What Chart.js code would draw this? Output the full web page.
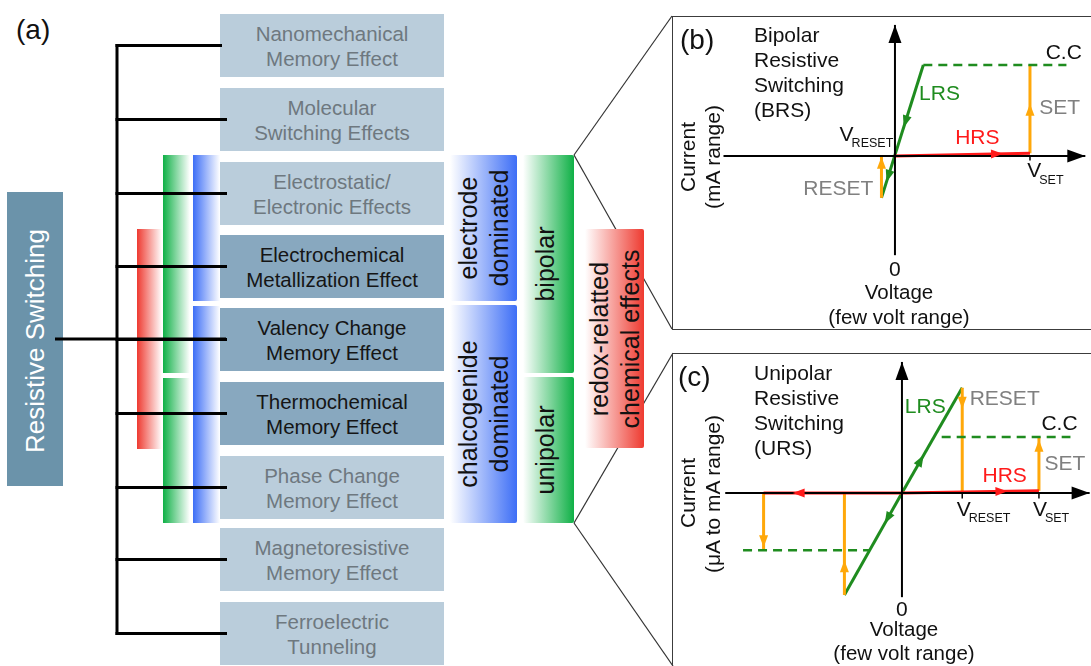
<!DOCTYPE html>
<html>
<head>
<meta charset="utf-8">
<title>Resistive switching</title>
<script src="https://cdn.jsdelivr.net/npm/chart.js@4.4.1/dist/chart.umd.min.js"></script>
<style>
  body { margin: 0; background: #fff; font-family: "Liberation Sans", Arial, sans-serif; }
  #page { position: relative; width: 1091px; height: 666px; overflow: hidden; }
  .abs { position: absolute; }
  .c { transform: translate(-50%, -50%); white-space: nowrap; }
  .rot { transform: translate(-50%, -50%) rotate(-90deg); white-space: nowrap; text-align: center; }
  .box { position: absolute; left: 220px; width: 224px; height: 63px; display: flex; align-items: center; justify-content: center; text-align: center; font-size: 20.5px; line-height: 25px; }
  .light { background: #bacddb; color: #6e787f; }
  .dark { background: #88a8bf; color: #151515; }
  .bar { position: absolute; }
  .tag { position: absolute; border-radius: 2px; }
  .tag span { position: absolute; left: 50%; top: 50%; font-size: 25px; line-height: 31px; color: #111; }
  .panel { position: absolute; left: 672px; width: 440px; border: 1.5px solid #3c3c3c; border-right: none; }
  .ptxt { font-size: 21px; line-height: 25px; color: #111; }
  canvas { position: absolute; }
</style>
</head>
<body>
<div id="page">
  <!-- connector lines to panels (b) and (c) -->
  <svg class="abs" style="left:0;top:0" width="1091" height="666">
    <g stroke="#333" stroke-width="1.2">
      <line x1="574" y1="155" x2="672" y2="16"/>
      <line x1="574" y1="155" x2="672" y2="329"/>
      <line x1="574" y1="523" x2="673" y2="353"/>
      <line x1="574" y1="523" x2="673" y2="666"/>
    </g>
  </svg>

  <div class="abs" style="left:16px;top:16px;font-size:28px;line-height:28px;color:#111">(a)</div>

  <div class="abs" style="left:7px;top:192px;width:56px;height:294px;background:#6b93aa"></div>
  <div class="abs rot" style="left:35px;top:341px;font-size:26px;color:#fff">Resistive Switching</div>

  <!-- gradient bars of the tree -->
  <div class="bar" style="left:137px;top:229px;width:25px;height:220px;background:linear-gradient(to right,#ee3a30,#fff)"></div>
  <div class="bar" style="left:163px;top:155px;width:27px;height:218px;background:linear-gradient(to right,#0fb046,#fff)"></div>
  <div class="bar" style="left:163px;top:378px;width:27px;height:145px;background:linear-gradient(to right,#0fb046,#fff)"></div>
  <div class="bar" style="left:193px;top:155px;width:27px;height:146px;background:linear-gradient(to right,#3d6ef6,#fff)"></div>
  <div class="bar" style="left:193px;top:306px;width:27px;height:217px;background:linear-gradient(to right,#3d6ef6,#fff)"></div>

  <div id="boxes"></div>

  <svg class="abs" style="left:0;top:0" width="1091" height="666">
    <g id="tree" stroke="#000" stroke-width="3"></g>
  </svg>

  <!-- category tags -->
  <div class="tag" style="left:450px;top:155px;width:67px;height:146px;background:linear-gradient(to right,#fff,#3d6ef6)"><span class="rot">electrode<br>dominated</span></div>
  <div class="tag" style="left:450px;top:305px;width:67px;height:218px;background:linear-gradient(to right,#fff,#3d6ef6)"><span class="rot">chalcogenide<br>dominated</span></div>
  <div class="tag" style="left:523px;top:155px;width:51px;height:218px;background:linear-gradient(to right,#fff,#0fb046)"><span class="rot" style="margin-left:-4px">bipolar</span></div>
  <div class="tag" style="left:523px;top:377px;width:51px;height:146px;background:linear-gradient(to right,#fff,#0fb046)"><span class="rot" style="margin-left:-4px">unipolar</span></div>
  <div class="tag" style="left:585px;top:229px;width:59px;height:219px;background:linear-gradient(to right,#fff,#ee3a30)"><span class="rot">redox-relatted<br>chemical effects</span></div>

  <!-- panel (b) -->
  <div class="panel" style="top:16px;height:312px"></div>
  <canvas id="chartB" width="418" height="312" style="left:673px;top:17px"></canvas>
  <div class="abs" style="left:680px;top:26px;font-size:28px;line-height:28px;color:#111">(b)</div>
  <div class="abs ptxt" style="left:754px;top:22px">Bipolar<br>Resistive<br>Switching<br>(BRS)</div>
  <div class="abs rot ptxt" style="left:687px;top:157px">Current</div>
  <div class="abs rot ptxt" style="left:712px;top:157px">(mA range)</div>
  <div class="abs c" style="left:899px;top:292px;font-size:20.5px;color:#111">Voltage</div>
  <div class="abs c" style="left:899px;top:317px;font-size:20.5px;color:#111">(few volt range)</div>

  <!-- panel (c) -->
  <div class="panel" style="top:353px;height:320px"></div>
  <canvas id="chartC" width="417" height="312" style="left:674px;top:354px"></canvas>
  <div class="abs" style="left:678px;top:363px;font-size:28px;line-height:28px;color:#111">(c)</div>
  <div class="abs ptxt" style="left:754px;top:360px">Unipolar<br>Resistive<br>Switching<br>(URS)</div>
  <div class="abs rot ptxt" style="left:687px;top:493px">Current</div>
  <div class="abs rot ptxt" style="left:712px;top:494px">(μA to mA range)</div>
  <div class="abs c" style="left:904px;top:629px;font-size:20.5px;color:#111">Voltage</div>
  <div class="abs c" style="left:904px;top:653px;font-size:20.5px;color:#111">(few volt range)</div>
</div>

<script>
// Tree of switching mechanisms (a)
const effects = [
  'Nanomechanical<br>Memory Effect',
  'Molecular<br>Switching Effects',
  'Electrostatic/<br>Electronic Effects',
  'Electrochemical<br>Metallization Effect',
  'Valency Change<br>Memory Effect',
  'Thermochemical<br>Memory Effect',
  'Phase Change<br>Memory Effect',
  'Magnetoresistive<br>Memory Effect',
  'Ferroelectric<br>Tunneling'
];
const redoxEffects = [3, 4, 5]; // drawn in the darker shade
const boxTops = [14, 88, 162, 235, 308, 382, 456, 528, 602];

// Panel (b): voltage in units of V_SET, current in units of C.C
const bAxisX = [[-1.27, 0], [1.41, 0]];
const bAxisY = [[0, -1.09], [0, 1.44]];
const bLRS = [[0.21, 1], [-0.1, -0.46]];
const bHRS = [[0, 0], [1, 0.03]];
const bSET = [[1, 0.03], [1, 1]];
const bRESET = [[-0.1, -0.46], [-0.1, 0]];
const bCC = [[0.21, 1], [1.27, 1]];
const bTick = [[1, 0], [1, -0.05]];

// Panel (c)
const cAxisX = [[-1.29, 0], [1.37, 0]];
const cAxisY = [[0, -1.86], [0, 2.34]];
const cLRSup = [[0, 0], [0.44, 1.88]];
const cLRSdown = [[0, 0], [-0.42, -1.82]];
const cHRSpos = [[0, 0], [1, 0.04]];
const cHRSneg = [[0, 0], [-1.01, 0]];
const cSETpos = [[1, 0.04], [1, 1]];
const cSETneg = [[-1.01, 0], [-1.01, -1.02]];
const cRESETpos = [[0.44, 1.88], [0.44, 0]];
const cRESETneg = [[-0.42, -1.82], [-0.42, 0]];
const cCCpos = [[0.29, 1], [1.23, 1]];
const cCCneg = [[-1.16, -1.02], [-0.24, -1.02]];
const cTicks = [[[0.44, 0], [0.44, -0.1]], [[1, 0], [1, -0.1]]];

const GREEN = '#1f8c1f', RED = '#ff1a1a', ORANGE = '#ffa80a', GREY = '#808080', INK = '#111';

const bNotes = [
  { text: 'C.C', x: 1.25, y: 1.13, color: INK },
  { text: 'LRS', x: 0.33, y: 0.68, color: GREEN },
  { text: 'HRS', x: 0.61, y: 0.2, color: RED },
  { text: 'SET', x: 1.22, y: 0.53, color: GREY },
  { text: 'RESET', x: -0.42, y: -0.37, color: GREY },
  { text: 'V', sub: 'RESET', x: -0.41, y: 0.23, color: INK },
  { text: 'V', sub: 'SET', x: 0.98, y: -0.17, color: INK },
  { text: '0', x: 0, y: -1.25, color: INK }
];
const cNotes = [
  { text: 'LRS', x: 0.17, y: 1.54, color: GREEN },
  { text: 'RESET', x: 0.75, y: 1.67, color: GREY },
  { text: 'C.C', x: 1.15, y: 1.23, color: INK },
  { text: 'SET', x: 1.19, y: 0.51, color: GREY },
  { text: 'HRS', x: 0.75, y: 0.3, color: RED },
  { text: 'V', sub: 'RESET', x: 0.4, y: -0.3, color: INK },
  { text: 'V', sub: 'SET', x: 0.956, y: -0.3, color: INK },
  { text: '0', x: 0, y: -2.1, color: INK }
];

// build the left boxes and tree branches
const boxHost = document.getElementById('boxes');
const tree = document.getElementById('tree');
const NS = 'http://www.w3.org/2000/svg';
function svgLine(x1, y1, x2, y2) {
  const l = document.createElementNS(NS, 'line');
  l.setAttribute('x1', x1); l.setAttribute('y1', y1);
  l.setAttribute('x2', x2); l.setAttribute('y2', y2);
  tree.appendChild(l);
}
effects.forEach((label, i) => {
  const box = document.createElement('div');
  box.className = 'box ' + (redoxEffects.includes(i) ? 'dark' : 'light');
  box.style.top = boxTops[i] + 'px';
  box.innerHTML = label;
  boxHost.appendChild(box);
  const y = boxTops[i] + 31.5;
  svgLine(115.5, y, i === 0 ? 222 : 227, y);
});
svgLine(117, boxTops[0] + 30, 117, boxTops[8] + 33);
svgLine(55, 339, 226, 339);

// Chart helpers
const FONT = '"Liberation Sans", Arial, sans-serif';

function seg(points, color, width, extra) {
  return Object.assign({
    data: points.map(([x, y]) => ({ x, y })),
    showLine: true,
    borderColor: color,
    backgroundColor: color,
    borderWidth: width,
    pointRadius: 0,
    fill: false,
    tension: 0
  }, extra || {});
}

const arrowPlugin = {
  id: 'arrows',
  afterDatasetsDraw(chart) {
    const ctx = chart.ctx;
    const xs = chart.scales.x, ys = chart.scales.y;
    chart.data.datasets.forEach(ds => {
      if (!ds.arrows) return;
      const p0 = ds.data[0], p1 = ds.data[ds.data.length - 1];
      const x0 = xs.getPixelForValue(p0.x), y0 = ys.getPixelForValue(p0.y);
      const x1 = xs.getPixelForValue(p1.x), y1 = ys.getPixelForValue(p1.y);
      const len = Math.hypot(x1 - x0, y1 - y0);
      const ux = (x1 - x0) / len, uy = (y1 - y0) / len;
      const L = ds.arrowLength || 12, W = ds.arrowWidth || 9;
      ds.arrows.forEach(f => {
        const tx = x0 + (x1 - x0) * f, ty = y0 + (y1 - y0) * f;
        ctx.save();
        ctx.fillStyle = ds.borderColor;
        ctx.beginPath();
        ctx.moveTo(tx, ty);
        ctx.lineTo(tx - ux * L - uy * W / 2, ty - uy * L + ux * W / 2);
        ctx.lineTo(tx - ux * L + uy * W / 2, ty - uy * L - ux * W / 2);
        ctx.closePath();
        ctx.fill();
        ctx.restore();
      });
    });
  }
};

const notePlugin = {
  id: 'notes',
  afterDatasetsDraw(chart, args, opts) {
    const ctx = chart.ctx;
    const xs = chart.scales.x, ys = chart.scales.y;
    (opts.items || []).forEach(n => {
      const px = xs.getPixelForValue(n.x), py = ys.getPixelForValue(n.y);
      ctx.save();
      ctx.fillStyle = n.color;
      ctx.textBaseline = 'middle';
      ctx.font = '21px ' + FONT;
      if (n.sub) {
        ctx.textAlign = 'left';
        ctx.fillText(n.text, px, py);
        const w = ctx.measureText(n.text).width;
        ctx.font = '12.5px ' + FONT;
        ctx.fillText(n.sub, px + w - 2, py + 9);
      } else {
        ctx.textAlign = 'center';
        ctx.fillText(n.text, px, py);
      }
      ctx.restore();
    });
  }
};

function makeChart(id, xRange, yRange, datasets, notes) {
  return new Chart(document.getElementById(id), {
    type: 'scatter',
    data: { datasets },
    options: {
      responsive: false,
      animation: false,
      events: [],
      layout: { padding: 0 },
      plugins: {
        legend: { display: false },
        tooltip: { enabled: false },
        notes: { items: notes }
      },
      scales: {
        x: { type: 'linear', display: false, min: xRange[0], max: xRange[1] },
        y: { type: 'linear', display: false, min: yRange[0], max: yRange[1] }
      }
    },
    plugins: [arrowPlugin, notePlugin]
  });
}

const axisArrow = { arrows: [1], arrowLength: 18, arrowWidth: 13 };
const dash = { borderDash: [9, 6] };

makeChart('chartB', [-1.644, 1.452], [-1.901, 1.527], [
  seg(bAxisX, '#000', 2, axisArrow),
  seg(bAxisY, '#000', 2, axisArrow),
  seg(bTick, '#000', 1.5),
  seg(bCC, GREEN, 2.5, dash),
  seg(bHRS, RED, 3, { arrows: [0.8] }),
  seg(bSET, ORANGE, 3, { arrows: [0.56] }),
  seg(bRESET, ORANGE, 3, { arrows: [0.98] }),
  seg(bLRS, GREEN, 3, { arrows: [0.47, 0.88] })
], bNotes);

makeChart('chartC', [-1.664, 1.38], [-3.089, 2.482], [
  seg(cAxisX, '#000', 2, axisArrow),
  seg(cAxisY, '#000', 2, axisArrow),
  ...cTicks.map(t => seg(t, '#000', 1.5)),
  seg(cCCpos, GREEN, 2.5, dash),
  seg(cCCneg, GREEN, 2.5, dash),
  seg(cHRSpos, RED, 3, { arrows: [0.77] }),
  seg(cHRSneg, RED, 3, { arrows: [0.79] }),
  seg(cSETpos, ORANGE, 3, { arrows: [0.95] }),
  seg(cSETneg, ORANGE, 3, { arrows: [0.95] }),
  seg(cRESETpos, ORANGE, 3, { arrows: [0.2] }),
  seg(cRESETneg, ORANGE, 3, { arrows: [0.34] }),
  seg(cLRSup, GREEN, 3, { arrows: [0.36] }),
  seg(cLRSdown, GREEN, 3, { arrows: [0.3] })
], cNotes);
</script>
</body>
</html>
